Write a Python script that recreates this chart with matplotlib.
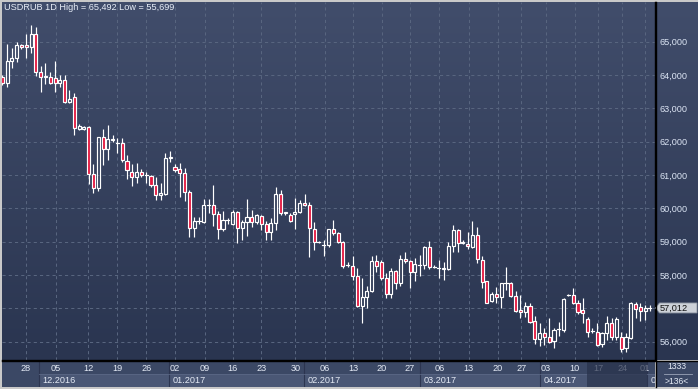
import matplotlib
matplotlib.use('Agg')
import matplotlib.pyplot as plt
import numpy as np
from matplotlib.patches import Rectangle, Polygon
from matplotlib.lines import Line2D

plt.rcParams['font.family'] = ['Liberation Sans', 'DejaVu Sans']

# ---------------- data (USDRUB daily) ----------------
opens = [63930, 63750, 64410, 64500, 64890, 64890, 64830, 65230, 64080, 63930,
         63930, 63900, 63770, 63850, 63200, 63330, 62370, 62390, 62430, 61020,
         60600, 62130, 61770, 62060, 61960, 61950, 61430, 61100, 60950, 61100,
         61010, 60970, 60690, 60400, 60430, 61510, 61230, 61170, 61050, 60480,
         59400, 59620, 59580, 60100, 60100, 59830, 59370, 59650, 59530, 59900,
         59420, 59580, 59730, 59600, 59770, 59520, 59290, 59550, 60420, 59850,
         59800, 59820, 59900, 60160, 60090, 59370, 59000, 58900, 58900, 59370,
         59250, 58980, 58300, 58280, 57980, 57080, 57330, 57530, 58430, 58400,
         57900, 57420, 58120, 57770, 58470, 58420, 58100, 58300, 58300, 58830,
         58230, 58200, 58170, 58170, 58880, 59350, 58950, 58920, 58850, 59200,
         58450, 57820, 57230, 57420, 57350, 57750, 57750, 57380, 56950, 56880,
         57070, 56620, 56090, 56250, 56130, 56030, 56370, 56350, 57400, 57400,
         57150, 56950, 56670, 56330, 56280, 55920, 56250, 56550, 56150, 56130,
         55800, 56100, 57130, 57030, 56930, 57012]
highs = [63990, 64930, 64800, 64990, 64930, 65230, 65492, 65430, 64270, 64370,
         64090, 64420, 64000, 64000, 63550, 63470, 62530, 62470, 62470, 61330,
         62150, 62370, 62500, 62200, 62100, 62100, 61600, 61320, 61370, 61170,
         61100, 61000, 60950, 60770, 61670, 61720, 61320, 61350, 61200, 60550,
         59730, 59730, 60270, 60270, 60700, 59930, 59920, 59700, 59950, 59930,
         59650, 60280, 59950, 59830, 59800, 59630, 59700, 60650, 60550, 59890,
         59850, 60300, 60250, 60430, 60200, 59600, 59030, 59050, 59370, 59650,
         59300, 59020, 58390, 58570, 58200, 57900, 57670, 58570, 58600, 58450,
         58050, 58200, 58150, 58600, 58700, 58450, 58520, 58600, 58880, 59020,
         58300, 58450, 58400, 59000, 59500, 59380, 59050, 59300, 59620, 59450,
         58570, 57830, 57500, 57630, 57750, 58230, 57800, 57520, 57400, 57200,
         57150, 56770, 56550, 56400, 56700, 56400, 56600, 57300, 57430, 57600,
         57250, 57300, 56730, 56400, 56550, 56300, 56770, 56700, 56730, 56300,
         56250, 57200, 57200, 57170, 57100, 57100]
lows = [63700, 63650, 64220, 64400, 64790, 64520, 64670, 63980, 63500, 63730,
        63730, 63500, 63650, 63150, 63170, 62200, 62350, 62350, 60730, 60470,
        60530, 61300, 61450, 62000, 61650, 61400, 60870, 60680, 60770, 60950,
        60750, 60650, 60250, 60250, 60400, 61400, 61100, 60350, 60230, 59150,
        59130, 59530, 59550, 59850, 59470, 59090, 59320, 59530, 59500, 58950,
        59050, 59170, 59450, 59530, 59350, 59050, 59050, 59350, 59800, 59800,
        59600, 59380, 59850, 60070, 58550, 58750, 58970, 58570, 58850, 59200,
        58950, 58220, 58230, 57850, 57050, 56550, 57000, 57500, 58100, 57850,
        57300, 57300, 57570, 57670, 58350, 57600, 57830, 57970, 58170, 58170,
        58200, 57920, 57850, 58150, 58700, 58700, 58920, 58770, 58800, 58370,
        57620, 57150, 57200, 57170, 57000, 57550, 57330, 56900, 56700, 56750,
        56570, 55920, 55870, 55900, 55970, 55800, 56170, 56300, 57370, 57130,
        56830, 56550, 56150, 56250, 55870, 55850, 56050, 56050, 56050, 55699,
        55700, 56070, 56700, 56630, 56650, 56930]
closes = [63750, 64410, 64500, 64890, 64830, 64830, 65230, 64100, 63950, 63970,
          63770, 63770, 63850, 63200, 63280, 62400, 62470, 62430, 61020, 60600,
          62130, 61770, 62070, 62080, 61950, 61450, 61150, 60950, 61080, 61000,
          61000, 60690, 60400, 60450, 61500, 61540, 61150, 61050, 60480, 59400,
          59620, 59630, 60100, 60100, 59820, 59380, 59650, 59660, 59900, 59420,
          59590, 59730, 59600, 59800, 59520, 59280, 59550, 60420, 59850, 59890,
          59620, 59880, 60150, 60100, 59400, 59000, 59000, 58900, 59370, 59250,
          58980, 58280, 58300, 57980, 57080, 57330, 57530, 58430, 58280, 57900,
          57420, 58120, 57770, 58470, 58420, 58100, 58320, 58300, 58830, 58230,
          58230, 58200, 58200, 58880, 59350, 58950, 58980, 58870, 59200, 58470,
          57800, 57170, 57420, 57350, 57750, 57750, 57380, 56930, 56880, 57070,
          56600, 56090, 56250, 56150, 56000, 56350, 56370, 57270, 57400, 57170,
          56900, 56870, 56300, 56330, 55900, 56250, 56550, 56150, 56670, 55770,
          56130, 57170, 56970, 56930, 57000, 57012]

price_ticks = list(range(56000, 65001, 1000))
day_tick_pos = [4.95, 11.2, 17.9, 23.9, 30.0, 36.0, 42.2, 48.0, 54.0, 61.1,
                67.2, 73.2, 79.1, 85.0, 91.1, 97.2, 103.3, 108.2, 113.3, 119.3,
                124.2, 129.2, 134.0]
day_tick_labels = ['28', '05', '12', '19', '26', '02', '09', '16', '23', '30',
                   '06', '13', '20', '27', '06', '13', '20', '27', '03', '10',
                   '17', '24', '01']
month_start = [7.66, 34.8, 62.8, 87.0, 112.1, 134.3]
month_labels = ['12.2016', '01.2017', '02.2017', '03.2017', '04.2017', '05.2017']
symbol = 'USDRUB 1D'
hi_val, lo_val = 65492, 55699
last_price = 57012
bar_count_text = ['1333', '>136<']
dim_from = 121.9

# ---------------- layout ----------------
W, H = 698, 389
fig = plt.figure(figsize=(W / 100, H / 100), dpi=100, facecolor='#c9c9c9')


def fr(x0, y0, x1, y1):
    return [x0 / W, 1 - y1 / H, (x1 - x0) / W, (y1 - y0) / H]


top_px, bot_px, left_px, right_px = 2, 360, 2, 655
xlim = (-0.06, 136.05)
ylim = (55451, 66191)

# gradient background (plot + right price scale)
bg = fig.add_axes(fr(left_px, top_px, W, bot_px))
c_top = np.array([0x41, 0x4d, 0x6b]) / 255
c_bot = np.array([0x2a, 0x35, 0x50]) / 255
t = np.linspace(0, 1, 256)[:, None]
grad = (c_top[None, :] * (1 - t) + c_bot[None, :] * t)[:, None, :]
bg.imshow(grad, aspect='auto', extent=(0, 1, 0, 1), origin='upper')
bg.set_axis_off()

ax = fig.add_axes(fr(left_px, top_px, right_px, bot_px))
ax.set_facecolor('none')
ax.set_xlim(*xlim)
ax.set_ylim(*ylim)
for s in ['top', 'left']:
    ax.spines[s].set_visible(False)
ax.spines['right'].set_color('black')
ax.spines['bottom'].set_color('black')
ax.spines['right'].set_linewidth(1.0)
ax.spines['bottom'].set_linewidth(1.0)

ax.yaxis.tick_right()
ax.set_yticks(price_ticks)
ax.set_yticklabels([f'{v:,}' for v in price_ticks])
ax.tick_params(axis='y', length=0, pad=3, labelsize=6.6, labelcolor='#dbe4f3')
ax.set_xticks(day_tick_pos)
ax.tick_params(axis='x', length=0, labelbottom=False)
ax.grid(True, color='#58657f', linestyle=(0, (3, 3)), linewidth=0.75)
ax.set_axisbelow(True)

# candles
red = '#e3173e'
bw = 0.64
lw = 0.85
for i, (o, h, l, c) in enumerate(zip(opens, highs, lows, closes)):
    top_b, bot_b = max(o, c), min(o, c)
    ax.plot([i, i], [top_b, h], color='white', lw=lw, solid_capstyle='butt', zorder=3)
    ax.plot([i, i], [l, bot_b], color='white', lw=lw, solid_capstyle='butt', zorder=3)
    if abs(c - o) < 15:
        ax.plot([i - bw / 2, i + bw / 2], [c, c], color='white', lw=lw, zorder=4)
    else:
        fc = red if c < o else 'none'
        ax.add_patch(Rectangle((i - bw / 2, bot_b), bw, top_b - bot_b,
                               facecolor=fc, edgecolor='white', lw=lw, zorder=4))

# title
fig.text(4 / W, 1 - 8 / H, f'{symbol} High = {hi_val:,} Low = {lo_val:,}',
         ha='left', va='center', fontsize=6.6, color='#e8eef8')

# ---------------- date axis ----------------
dax = fig.add_axes(fr(left_px, 361, right_px, 387))
dax.set_xlim(*xlim)
dax.set_ylim(0, 1)
dax.set_facecolor('#3b4865')
for s in dax.spines.values():
    s.set_visible(False)
dax.set_xticks([])
dax.set_yticks([])
ends = month_start[1:] + [xlim[1] + 5]
for k, (ms, me, lab) in enumerate(zip(month_start, ends, month_labels)):
    dax.add_patch(Rectangle((ms, 0), me - ms, 0.5, facecolor='#4a5775',
                            edgecolor='none', zorder=1))
    dax.plot([ms, ms], [0, 1], color='#2c3550', lw=0.8, zorder=2)
    dax.plot([ms, me], [0.5, 0.5], color='#5a6785', lw=0.6, zorder=2)
    # the last month band is cut off by the price scale: only its first glyph shows
    shown = lab if k < len(month_labels) - 1 else lab[:1]
    dax.text(ms + 0.75, 0.25, shown, ha='left', va='center', fontsize=6.6,
             color='#e4eaf5', zorder=3, clip_on=True)
for p, lab in zip(day_tick_pos, day_tick_labels):
    dax.text(p, 0.71, lab, ha='center', va='center', fontsize=6.6,
             color='#e4eaf5', zorder=3, clip_on=True)
dax.add_patch(Rectangle((dim_from, 0), month_start[-1] - dim_from, 1,
                        facecolor='#28324b', alpha=0.7, edgecolor='none', zorder=4))

# bottom-right box
bx = fig.add_axes(fr(656, 361, W, 387))
bx.set_facecolor('#3b4865')
bx.set_xlim(0, 1)
bx.set_ylim(0, 1)
bx.set_xticks([])
bx.set_yticks([])
for s in bx.spines.values():
    s.set_visible(False)
bx.text(0.5, 0.79, bar_count_text[0], ha='center', va='center', fontsize=6.2, color='#e4eaf5')
bx.text(0.5, 0.2, bar_count_text[1], ha='center', va='center', fontsize=6.2, color='#e4eaf5')
bx.plot([0.2, 0.85], [0.5, 0.5], color='#9aa4b8', lw=0.6)

# separators
fig.add_artist(Line2D([right_px / W + 0.5 / W] * 2, [1 - 387 / H, 1 - top_px / H],
                      color='black', lw=1.0))
fig.add_artist(Line2D([left_px / W, 1], [1 - 360.5 / H] * 2, color='black', lw=1.0))

# last price tag
ypx = top_px + (ylim[1] - last_price) / (ylim[1] - ylim[0]) * (bot_px - top_px)
pts = [(655.5, ypx), (659.5, ypx - 5), (697, ypx - 5), (697, ypx + 5), (659.5, ypx + 5)]
fig.add_artist(Polygon([(x / W, 1 - y / H) for x, y in pts], closed=True,
                       facecolor='#cdd1d8', edgecolor='#8b93a0', lw=0.6,
                       transform=fig.transFigure))
fig.text(660 / W, 1 - ypx / H, f'{last_price:,}', ha='left', va='center',
         fontsize=6.6, color='#111111')

fig.savefig('out.png', dpi=100, facecolor=fig.get_facecolor())
